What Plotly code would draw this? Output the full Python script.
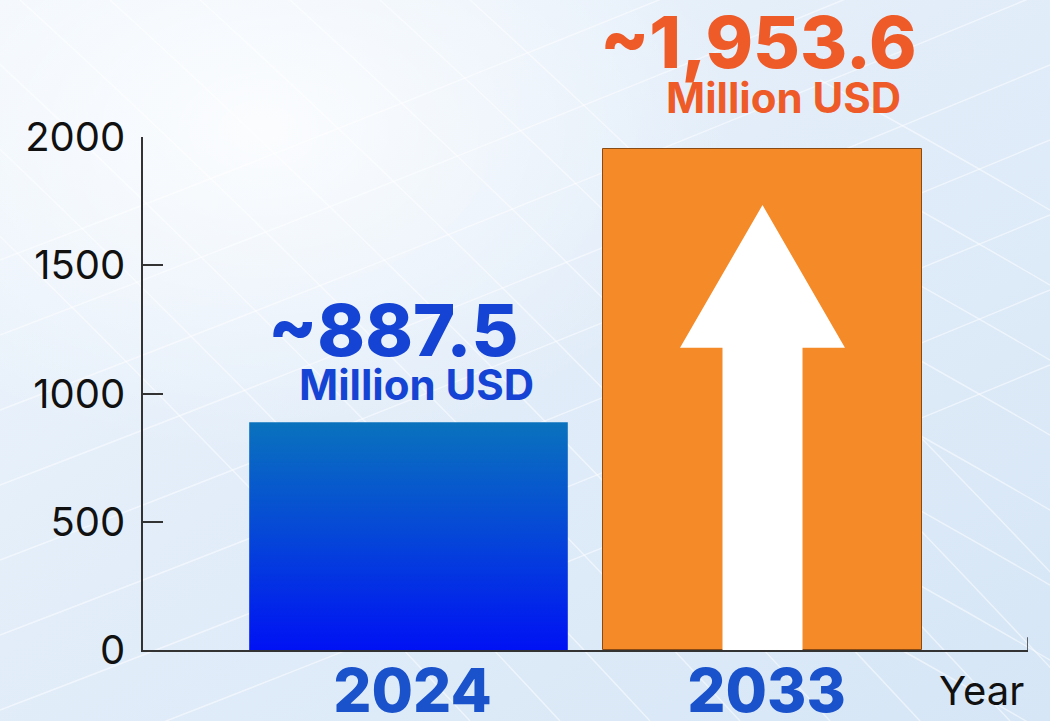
import base64
import plotly.graph_objects as go

# Market size, million USD
years = ["2024", "2033"]
values = [887.5, 1953.6]
y_ticks = [0, 500, 1000, 1500, 2000]

W, H = 1050, 721
L, R, T, B = 143, 22, 137, 71
BAR_W = 0.9
X_RANGE = [-0.75, 1.75]

BLUE_TXT = "#1544d4"
ORANGE_TXT = "#ef5b28"
FONT = "Inter"


def background_svg():
    """Soft light-blue backdrop with faint white mesh curves."""
    paths = []
    # lines sweeping down to the right
    for i in range(9):
        x0 = -250 + i * 90
        paths.append(f"M{x0},0 Q{x0 + 330},{300} {x0 + 720},{H}")
    # curves rising to the right
    for i in range(8):
        y0 = 260 + i * 75
        paths.append(f"M0,{y0} Q{420},{y0 - 160} {W},{y0 - 420}")
    # right-side curves falling to the right
    for i in range(8):
        y0 = 140 + i * 75
        paths.append(f"M820,{y0 - 60} Q{930},{y0} {W},{y0 + 70}")
    strokes = "".join(
        f'<path d="{d}" fill="none" stroke="#ffffff" stroke-opacity="0.5" stroke-width="1.5"/>'
        for d in paths
    )
    svg = f'''<svg xmlns="http://www.w3.org/2000/svg" width="{W}" height="{H}" viewBox="0 0 {W} {H}">
<defs>
<linearGradient id="g" x1="0" y1="0" x2="1" y2="1">
<stop offset="0" stop-color="#f1f7fd"/>
<stop offset="0.45" stop-color="#e2edf9"/>
<stop offset="1" stop-color="#d6e6f6"/>
</linearGradient>
<radialGradient id="glow" cx="0.25" cy="0.18" r="0.45">
<stop offset="0" stop-color="#ffffff" stop-opacity="0.8"/>
<stop offset="1" stop-color="#ffffff" stop-opacity="0"/>
</radialGradient>
</defs>
<rect width="{W}" height="{H}" fill="url(#g)"/>
{strokes}
<rect width="{W}" height="{H}" fill="url(#glow)"/>
</svg>'''
    return "data:image/svg+xml;base64," + base64.b64encode(svg.encode()).decode()


fig = go.Figure()

# 2033 bar (solid orange)
fig.add_trace(go.Bar(
    x=[1], y=[values[1]], width=BAR_W,
    marker=dict(color="#f58a28", line=dict(color="#8a4a14", width=1)),
    hoverinfo="skip", showlegend=False,
))

# 2024 bar with vertical blue gradient
x0, x1 = 0 - BAR_W / 2, 0 + BAR_W / 2
fig.add_trace(go.Scatter(
    x=[x0, x0, x1, x1, x0], y=[0, values[0], values[0], 0, 0],
    mode="none", fill="toself",
    fillgradient=dict(
        type="vertical",
        colorscale=[[0, "#0012f4"], [0.5, "#0546d8"], [1, "#0a72bd"]],
        start=0, stop=values[0],
    ),
    hoverinfo="skip", showlegend=False,
))

# white upward arrow inside the 2033 bar
v = values[1]
c = 1
shaft = 0.113
head = 0.233
tip_y = v * 0.888
base_y = v * 0.603
arrow = (f"M {c - shaft},0 L {c - shaft},{base_y} L {c - head},{base_y} "
         f"L {c},{tip_y} L {c + head},{base_y} L {c + shaft},{base_y} "
         f"L {c + shaft},0 Z")

shapes = [
    dict(type="path", path=arrow, xref="x", yref="y",
         fillcolor="#ffffff", line=dict(width=0), layer="above"),
    # small closing tick at the end of the x axis
    dict(type="line", xref="x", yref="y", x0=X_RANGE[1], x1=X_RANGE[1],
         y0=0, y1=50, line=dict(color="#333333", width=1.5)),
]

annotations = []
for i, (val, col, nx, mx, ny, my) in enumerate([
    (values[0], BLUE_TXT, -16, 8, 93, 38),
    (values[1], ORANGE_TXT, -4, 21, 107, 51),
]):
    annotations.append(dict(
        x=i, y=val, xref="x", yref="y", text=f"~{val:,.1f}",
        showarrow=False, xanchor="center", yanchor="middle",
        xshift=nx, yshift=ny,
        font=dict(family=FONT, size=72, color=col, weight=800),
    ))
    annotations.append(dict(
        x=i, y=val, xref="x", yref="y", text="Million USD",
        showarrow=False, xanchor="center", yanchor="middle",
        xshift=mx, yshift=my,
        font=dict(family=FONT, size=42, color=col, weight=700),
    ))

annotations.append(dict(
    x=1.0, y=0, xref="paper", yref="paper", text="Year",
    showarrow=False, xanchor="right", yanchor="middle",
    xshift=-2, yshift=-40,
    font=dict(family=FONT, size=40, color="#111111"),
))

fig.update_layout(
    width=W, height=H,
    margin=dict(l=L, r=R, t=T, b=B, pad=0, autoexpand=False),
    paper_bgcolor="#dde9f6",
    plot_bgcolor="rgba(0,0,0,0)",
    bargap=0,
    shapes=shapes,
    annotations=annotations,
    images=[dict(
        source=background_svg(), xref="paper", yref="paper",
        x=-L / (W - L - R), y=1 + T / (H - T - B),
        sizex=W / (W - L - R), sizey=H / (H - T - B),
        xanchor="left", yanchor="top", sizing="stretch", layer="below",
    )],
    xaxis=dict(
        range=X_RANGE, tickvals=[0, 1], ticktext=years,
        showline=True, linecolor="#333333", linewidth=1.5,
        ticks="", showgrid=False, zeroline=False, automargin=False,
        ticklabelshift=4, ticklabelstandoff=-12,
        tickfont=dict(family=FONT, size=60, color="#1a52cc", weight=800),
        fixedrange=True,
    ),
    yaxis=dict(
        range=[0, 2000], tickvals=y_ticks,
        showline=True, linecolor="#333333", linewidth=1.5,
        ticks="inside", ticklen=20, tickwidth=1.5, tickcolor="#333333",
        showgrid=False, zeroline=False, automargin=False,
        ticklabelstandoff=8,
        tickfont=dict(family=FONT, size=40, color="#111111"),
        fixedrange=True,
    ),
)

fig.write_html("out.html", config={"displayModeBar": False})
